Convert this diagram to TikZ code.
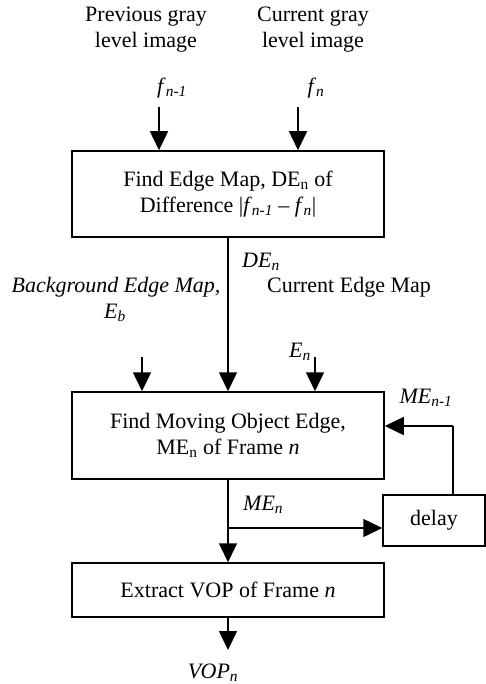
\documentclass[tikz,border=0pt]{standalone}
\usepackage{fontspec}
\setmainfont{Liberation Serif}
\usetikzlibrary{arrows.meta}
\newcommand{\sbi}[1]{\textsubscript{\textit{#1}}}
\begin{document}
\begin{tikzpicture}[x=1pt,y=-1pt,
  every node/.style={font=\fontsize{22}{26}\selectfont, inner sep=0pt},
  procbox/.style={draw, line width=1.5pt},
  lbl/.style={align=center},
  flow/.style={line width=1.5pt, -{Triangle[width=18pt,length=19pt]}},
  wire/.style={line width=1.5pt}]
\useasboundingbox (0,0) rectangle (486,684);
% top labels
\node[lbl] (prev) at (146,30) {Previous gray\\level image};
\node[lbl] (curr) at (313,30) {Current gray\\level image};
\node (fn1) at (172,88) {\textit{f}\sbi{n-1}};
\node (fn) at (316,88) {\textit{f}\sbi{n}};
% box 1
\node[procbox, minimum width=312pt, minimum height=86pt, align=center] (b1) at (228,194)
  {Find Edge Map, DE\textsubscript{n} of\\Difference |\textit{f}\sbi{n-1} -- \textit{f}\sbi{n}|};
\coordinate (a1) at (159,107);
\coordinate (a2) at (298,107);
\draw[flow] (a1) -- (a1 |- b1.north);
\draw[flow] (a2) -- (a2 |- b1.north);
% middle labels
\node[anchor=west] (den) at (242,262) {\textit{DE}\sbi{n}};
\node (bg) at (116,287) {\textit{Background Edge Map,}};
\node (eb) at (115,313) {\textit{E}\sbi{b}};
\node (cem) at (349,287) {Current Edge Map};
\node (en) at (300,352) {\textit{E}\sbi{n}};
% box 2
\node[procbox, minimum width=312pt, minimum height=87pt, align=center] (b2) at (228,435.5)
  {Find Moving Object Edge,\\ME\textsubscript{n} of Frame \textit{n}};
\coordinate (a3) at (142,357);
\coordinate (a4) at (315,357);
\draw[flow] (a3) -- (a3 |- b2.north);
\draw[flow] (a4) -- (a4 |- b2.north);
\draw[flow] (b1.south) -- (b2.north);
% delay
\node[procbox, minimum width=102pt, minimum height=51pt] (dl) at (434,520.5) {delay};
\node (men1) at (426,398) {\textit{ME}\sbi{n-1}};
\coordinate (fbk) at (453,426);
\draw[wire] (dl.north -| fbk) -- (fbk);
\draw[flow] (fbk) -- (fbk -| b2.east);
% box 3
\node[procbox, minimum width=312pt, minimum height=54pt] (b3) at (228,590)
  {Extract VOP of Frame \textit{n}};
\draw[flow] (b2.south) -- (b3.north);
\coordinate (br) at (228,528);
\draw[flow] (br) -- (br -| dl.west);
\node[anchor=west] (men) at (243,505) {\textit{ME}\sbi{n}};
% output
\coordinate (outp) at (228,650);
\draw[flow] (b3.south) -- (outp);
\node (vop) at (213,673) {\textit{VOP}\sbi{n}};
\end{tikzpicture}
\end{document}
